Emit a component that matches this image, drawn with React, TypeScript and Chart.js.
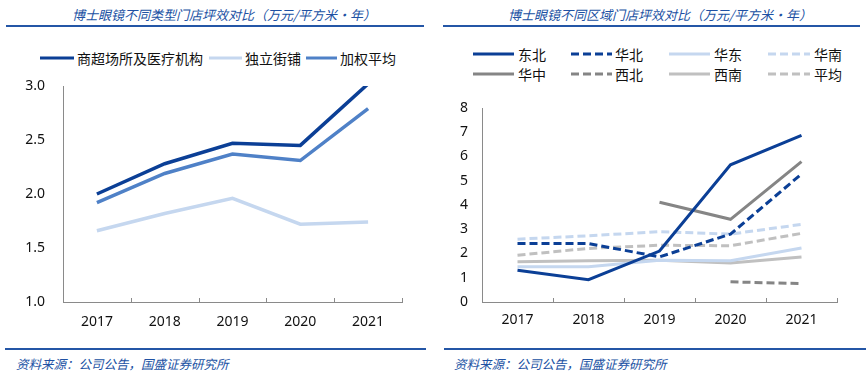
import React, { useEffect, useRef } from "react";
import { Chart, registerables } from "chart.js";
Chart.register(...registerables);

// ---------- data ----------
const years = ["2017", "2018", "2019", "2020", "2021"];

const leftTitle = "博士眼镜不同类型门店坪效对比（万元/平方米·年）";
const rightTitle = "博士眼镜不同区域门店坪效对比（万元/平方米·年）";
const sourceText = "资料来源：公司公告，国盛证券研究所";

const leftNames = ["商超场所及医疗机构", "独立街铺", "加权平均"];
const mallValues = [2.0, 2.28, 2.47, 2.45, 3.02];
const streetValues = [1.66, 1.82, 1.96, 1.72, 1.74];
const weightedValues = [1.92, 2.19, 2.37, 2.31, 2.79];
const leftYTicks = [1.0, 1.5, 2.0, 2.5, 3.0];

const regionNames = ["东北", "华北", "华东", "华南", "华中", "西北", "西南", "平均"];
const dongbei = [1.31, 0.92, 2.1, 5.66, 6.87];
const huabei = [2.41, 2.41, 1.86, 2.8, 5.28];
const huadong = [1.45, 1.45, 1.72, 1.7, 2.23];
const huanan = [2.59, 2.73, 2.9, 2.8, 3.2];
const huazhong = [null, null, 4.11, 3.41, 5.79];
const xibei = [null, null, null, 0.83, 0.76];
const xinan = [1.66, 1.7, 1.72, 1.61, 1.86];
const pingjun = [1.93, 2.21, 2.34, 2.32, 2.83];
const rightYTicks = [0, 1, 2, 3, 4, 5, 6, 7, 8];

// ---------- styles ----------
const DARK = "#0b3f96";
const MID = "#4f81c7";
const LIGHT = "#c5d7ef";
const GRAY = "#858585";
const LGRAY = "#c0c0c0";
const AXIS = "#8a8a8a";
const TITLE_BLUE = "#2051a3";
const DASH = [8, 4];
const TICK_FONT = { family: "'Noto Sans', 'Liberation Sans', sans-serif", size: 14 };
const CJK = "'Noto Sans CJK SC', sans-serif";

const leftStyles = [
  { color: DARK, dash: [] as number[] },
  { color: LIGHT, dash: [] as number[] },
  { color: MID, dash: [] as number[] },
];
const rightStyles = [
  { color: DARK, dash: [] as number[] },
  { color: DARK, dash: DASH },
  { color: LIGHT, dash: [] as number[] },
  { color: LIGHT, dash: DASH },
  { color: GRAY, dash: [] as number[] },
  { color: GRAY, dash: DASH },
  { color: LGRAY, dash: [] as number[] },
  { color: LGRAY, dash: DASH },
];

const inwardTicks = {
  id: "inwardTicks",
  afterDraw(chart: any) {
    const xs = chart.scales.x;
    const { bottom } = chart.chartArea;
    const ctx = chart.ctx;
    ctx.save();
    ctx.strokeStyle = AXIS;
    ctx.lineWidth = 1;
    for (let i = 0; i <= chart.data.labels.length; i++) {
      const px = Math.round(xs.getPixelForValue(i - 0.5)) + 0.5;
      ctx.beginPath();
      ctx.moveTo(px, bottom);
      ctx.lineTo(px, bottom - 4);
      ctx.stroke();
    }
    ctx.restore();
  },
};

function buildOptions(cfg: any) {
  return {
    responsive: false,
    animation: false,
    layout: { padding: cfg.padding },
    plugins: { legend: { display: false }, tooltip: { enabled: false } },
    elements: { point: { radius: 0 }, line: { tension: 0 } },
    scales: {
      x: {
        type: "category",
        offset: true,
        grid: { display: true, drawOnChartArea: false, drawTicks: false, offset: true },
        border: { display: true, color: AXIS, width: 1 },
        ticks: { color: "#111", font: TICK_FONT, padding: cfg.xPad, maxRotation: 0, autoSkip: false },
        afterFit: (s: any) => {
          s.height = cfg.xHeight;
          s.paddingLeft = 0;
          s.paddingRight = 0;
        },
      },
      y: {
        type: "linear",
        min: cfg.ticks[0],
        max: cfg.ticks[cfg.ticks.length - 1],
        grid: { display: true, drawOnChartArea: false, drawTicks: false },
        border: { display: true, color: AXIS, width: 1 },
        afterBuildTicks: (s: any) => {
          s.ticks = cfg.ticks.map((v: number) => ({ value: v }));
        },
        ticks: {
          color: "#111",
          font: TICK_FONT,
          padding: cfg.yPad,
          callback: (v: any) => cfg.fmt(Number(v)),
        },
        afterFit: (s: any) => {
          s.width = cfg.yWidth;
          s.paddingTop = 0;
          s.paddingBottom = 0;
        },
      },
    },
  };
}

function LineChart(props: any) {
  const ref = useRef<HTMLCanvasElement>(null);
  useEffect(() => {
    const chart = new Chart(ref.current as HTMLCanvasElement, {
      type: "line",
      data: {
        labels: years,
        datasets: props.series.map((d: any, i: number) => ({
          label: props.names[i],
          data: d,
          borderColor: props.styles[i].color,
          backgroundColor: props.styles[i].color,
          borderDash: props.styles[i].dash,
          borderWidth: props.lineWidth,
          fill: false,
          spanGaps: false,
        })),
      },
      options: buildOptions(props.cfg) as any,
      plugins: [inwardTicks],
    });
    return () => chart.destroy();
  }, []);
  return (
    <canvas
      ref={ref}
      width={props.w}
      height={props.h}
      style={{ position: "absolute", left: props.x, top: props.y, width: props.w, height: props.h }}
    />
  );
}

function LegendItem(props: any) {
  const { x1, x2, yc, textX, label, color, dash } = props;
  return (
    <>
      <svg
        style={{ position: "absolute", left: x1, top: yc - 3 }}
        width={x2 - x1}
        height={6}
      >
        <line
          x1={0}
          y1={3}
          x2={x2 - x1}
          y2={3}
          stroke={color}
          strokeWidth={3}
          strokeDasharray={dash.length ? dash.join(",") : undefined}
        />
      </svg>
      <div
        style={{
          position: "absolute",
          left: textX,
          top: yc - 10,
          height: 20,
          lineHeight: "20px",
          fontFamily: CJK,
          fontSize: 14,
          color: "#111",
          whiteSpace: "nowrap",
        }}
      >
        {label}
      </div>
    </>
  );
}

const titleStyle: any = {
  position: "absolute",
  top: 5,
  height: 20,
  lineHeight: "20px",
  fontFamily: CJK,
  fontStyle: "italic",
  fontSize: 13,
  color: TITLE_BLUE,
  whiteSpace: "nowrap",
};
const sourceStyle: any = {
  position: "absolute",
  top: 354,
  height: 20,
  lineHeight: "20px",
  fontFamily: CJK,
  fontStyle: "italic",
  fontSize: 12.5,
  color: TITLE_BLUE,
  whiteSpace: "nowrap",
};
const rule = (left: number, top: number, width: number): any => ({
  position: "absolute",
  left,
  top,
  width,
  height: 2,
  background: "#2456a6",
});

export default function App() {
  const leftLegend = [
    { x1: 40, x2: 74, textX: 77 },
    { x1: 209, x2: 242, textX: 245 },
    { x1: 306, x2: 337, textX: 340 },
  ];
  const colX = [
    { x1: 473, x2: 514, textX: 518 },
    { x1: 571, x2: 612, textX: 615 },
    { x1: 669, x2: 710, textX: 714 },
    { x1: 768, x2: 810, textX: 814 },
  ];
  const rowY = [54, 74];
  return (
    <div
      style={{
        position: "fixed",
        left: 0,
        top: 0,
        width: 866,
        height: 375,
        background: "#fff",
        overflow: "hidden",
      }}
    >
      <div style={{ ...titleStyle, left: 72 }}>{leftTitle}</div>
      <div style={{ ...titleStyle, left: 508 }}>{rightTitle}</div>
      <div style={rule(6, 25, 418)} />
      <div style={rule(443, 25, 417)} />

      {leftNames.map((n, i) => (
        <LegendItem
          key={n}
          {...leftLegend[i]}
          yc={58}
          label={n}
          color={leftStyles[i].color}
          dash={leftStyles[i].dash}
        />
      ))}
      {regionNames.map((n, i) => (
        <LegendItem
          key={n}
          {...colX[i % 4]}
          yc={rowY[Math.floor(i / 4)]}
          label={n}
          color={rightStyles[i].color}
          dash={rightStyles[i].dash}
        />
      ))}

      <LineChart
        x={0}
        y={76}
        w={433}
        h={264}
        series={[mallValues, streetValues, weightedValues]}
        names={leftNames}
        styles={leftStyles}
        lineWidth={3.5}
        cfg={{
          padding: { left: 0, right: 31, top: 10, bottom: 0 },
          yWidth: 63,
          xHeight: 38,
          yPad: 18,
          xPad: 12,
          ticks: leftYTicks,
          fmt: (v: number) => v.toFixed(1),
        }}
      />
      <LineChart
        x={433}
        y={90}
        w={433}
        h={250}
        series={[dongbei, huabei, huadong, huanan, huazhong, xibei, xinan, pingjun]}
        names={regionNames}
        styles={rightStyles}
        lineWidth={3}
        cfg={{
          padding: { left: 0, right: 29, top: 18, bottom: 0 },
          yWidth: 49,
          xHeight: 38,
          yPad: 14,
          xPad: 10,
          ticks: rightYTicks,
          fmt: (v: number) => String(v),
        }}
      />

      <div style={rule(5, 348, 421)} />
      <div style={rule(444, 348, 422)} />
      <div style={{ ...sourceStyle, left: 16 }}>{sourceText}</div>
      <div style={{ ...sourceStyle, left: 454 }}>{sourceText}</div>
    </div>
  );
}
